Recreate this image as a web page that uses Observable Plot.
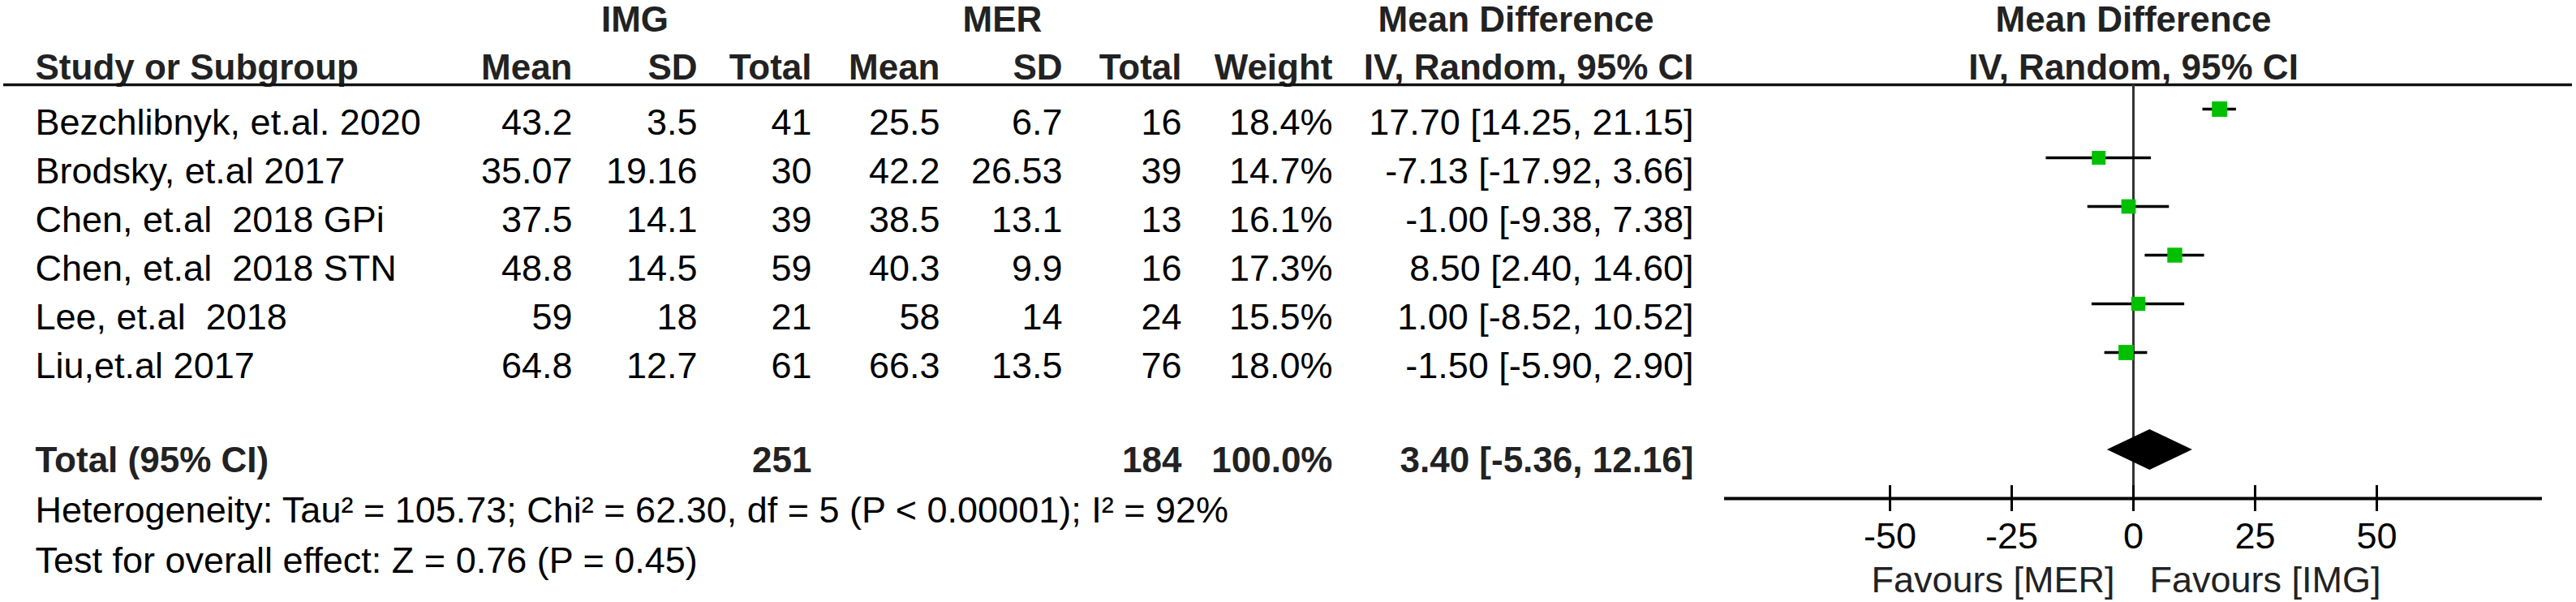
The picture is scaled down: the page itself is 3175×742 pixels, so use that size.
<!DOCTYPE html>
<html>
<head>
<meta charset="utf-8">
<script src="https://cdn.jsdelivr.net/npm/d3@7"></script>
<script src="https://cdn.jsdelivr.net/npm/@observablehq/plot@0.6"></script>
<style>
  html, body { margin: 0; padding: 0; background: #fff; }
  svg text { white-space: pre; }
</style>
</head>
<body>
<div id="chart"></div>
<script>
// ---------- data ----------
const studies = ["Bezchlibnyk, et.al. 2020", "Brodsky, et.al 2017", "Chen, et.al  2018 GPi", "Chen, et.al  2018 STN", "Lee, et.al  2018", "Liu,et.al 2017"];
const imgMean = [43.2, 35.07, 37.5, 48.8, 59, 64.8];
const imgSD = [3.5, 19.16, 14.1, 14.5, 18, 12.7];
const imgTotal = [41, 30, 39, 59, 21, 61];
const merMean = [25.5, 42.2, 38.5, 40.3, 58, 66.3];
const merSD = [6.7, 26.53, 13.1, 9.9, 14, 13.5];
const merTotal = [16, 39, 13, 16, 24, 76];
const weight = [18.4, 14.7, 16.1, 17.3, 15.5, 18.0];
const md = [17.70, -7.13, -1.00, 8.50, 1.00, -1.50];
const ciLo = [14.25, -17.92, -9.38, 2.40, -8.52, -5.90];
const ciHi = [21.15, 3.66, 7.38, 14.60, 10.52, 2.90];
const totalIMG = 251, totalMER = 184, totalWeight = 100.0;
const totalMD = 3.40, totalLo = -5.36, totalHi = 12.16;
const ticks = [-50, -25, 0, 25, 50];
const axisExtent = [-84, 84];
const heterogeneity = "Heterogeneity: Tau\u00B2 = 105.73; Chi\u00B2 = 62.30, df = 5 (P < 0.00001); I\u00B2 = 92%";
const overall = "Test for overall effect: Z = 0.76 (P = 0.45)";
const favours = ["Favours [MER]", "Favours [IMG]"];

// ---------- layout ----------
const W = 3175, H = 742;
const row0Px = 134, rowPx = 60;      // pixel centre of first study row, row pitch
const zeroPx = 2629, unitPx = 6;     // forest plot: pixel of 0, pixels per unit
const FONT = "Liberation Sans, Arial, Helvetica, sans-serif";
const FS = 45, FSB = 44;
const totalRow = 7, hetRow = 8, testRow = 9, axisRow = 8;

const fmtCI = (m, l, h) => `${m.toFixed(2)} [${l.toFixed(2)}, ${h.toFixed(2)}]`;

const rows = studies.map((s, i) => ({
  row: i, study: s,
  imgMean: imgMean[i], imgSD: imgSD[i], imgTotal: imgTotal[i],
  merMean: merMean[i], merSD: merSD[i], merTotal: merTotal[i],
  weight: weight[i], md: md[i], lo: ciLo[i], hi: ciHi[i]
}));

const columns = [
  {head: "Study or Subgroup", px: 43,   anchor: "start", val: d => d.study,              total: "Total (95% CI)"},
  {head: "Mean",              px: 705,  anchor: "end",   val: d => String(d.imgMean),    total: ""},
  {head: "SD",                px: 859,  anchor: "end",   val: d => String(d.imgSD),      total: ""},
  {head: "Total",             px: 1000, anchor: "end",   val: d => String(d.imgTotal),   total: String(totalIMG)},
  {head: "Mean",              px: 1158, anchor: "end",   val: d => String(d.merMean),    total: ""},
  {head: "SD",                px: 1309, anchor: "end",   val: d => String(d.merSD),      total: ""},
  {head: "Total",             px: 1456, anchor: "end",   val: d => String(d.merTotal),   total: String(totalMER)},
  {head: "Weight",            px: 1642, anchor: "end",   val: d => d.weight.toFixed(1) + "%", total: totalWeight.toFixed(1) + "%"},
  {head: "IV, Random, 95% CI",px: 2087, anchor: "end",   val: d => fmtCI(d.md, d.lo, d.hi), total: fmtCI(totalMD, totalLo, totalHi)}
];
const groupHeads = [
  {text: "IMG", px: 782}, {text: "MER", px: 1235}, {text: "Mean Difference", px: 1868}
];

const marks = [];
const textBase = {fontSize: FS, fontFamily: FONT, lineAnchor: "middle"};
const boldBase = {fontSize: FSB, fontFamily: FONT, lineAnchor: "middle", fontWeight: "bold", fill: "#222"};

// group headers (table)
for (const g of groupHeads) {
  marks.push(Plot.text([g.text], {...boldBase, y: -2, dy: 10, frameAnchor: "left", dx: g.px, textAnchor: "middle", text: d => d}));
}
// column headers, study rows, total row
for (const c of columns) {
  marks.push(Plot.text([c.head], {...boldBase, y: -1, dy: 9, frameAnchor: "left", dx: c.px, textAnchor: c.anchor, text: d => d}));
  marks.push(Plot.text(rows, {...textBase, y: "row", dy: 17, frameAnchor: "left", dx: c.px, textAnchor: c.anchor, text: c.val, fill: "#000"}));
  if (c.total) marks.push(Plot.text([c.total], {...boldBase, y: totalRow, dy: 13, frameAnchor: "left", dx: c.px, textAnchor: c.anchor, text: d => d}));
}
// forest headers
marks.push(Plot.text(["Mean Difference"], {...boldBase, x: 0, y: -2, dy: 10, textAnchor: "middle", text: d => d}));
marks.push(Plot.text(["IV, Random, 95% CI"], {...boldBase, x: 0, y: -1, dy: 9, textAnchor: "middle", text: d => d}));
// footnotes
marks.push(Plot.text([heterogeneity], {...textBase, y: hetRow, dy: 15, frameAnchor: "left", dx: 43, textAnchor: "start", text: d => d, fill: "#000"}));
marks.push(Plot.text([overall], {...textBase, y: testRow, dy: 17, frameAnchor: "left", dx: 43, textAnchor: "start", text: d => d, fill: "#000"}));

// header rule
marks.push(Plot.ruleY([-0.5], {stroke: "#111", strokeWidth: 3.5, insetLeft: 4, insetRight: 5}));
// line of no effect
marks.push(Plot.ruleX([0], {y1: -0.5, y2: axisRow, stroke: "#333", strokeWidth: 3}));
// x axis
marks.push(Plot.ruleY([axisExtent], {y: axisRow, x1: d => d[0], x2: d => d[1], stroke: "#000", strokeWidth: 4}));
marks.push(Plot.ruleX(ticks, {x: d => d, y1: axisRow - 16 / rowPx, y2: axisRow + 16 / rowPx, stroke: "#000", strokeWidth: 3}));
marks.push(Plot.text(ticks, {...textBase, x: d => d, y: axisRow, dy: 47, text: d => String(d), textAnchor: "middle", fill: "#000"}));
marks.push(Plot.text([favours[0]], {...textBase, x: 0, y: axisRow, dy: 101, dx: -23, textAnchor: "end", text: d => d, fill: "#222"}));
marks.push(Plot.text([favours[1]], {...textBase, x: 0, y: axisRow, dy: 101, dx: 20, textAnchor: "start", text: d => d, fill: "#222"}));

// confidence intervals and study squares
marks.push(Plot.ruleY(rows, {y: "row", x1: "lo", x2: "hi", stroke: "#000", strokeWidth: 3.5}));
marks.push(Plot.dot(rows, {x: "md", y: "row", r: "weight", symbol: "square", fill: "#00c000", stroke: "none"}));
// pooled diamond
const dh = 25 / rowPx;
const diamond = [
  {x: totalLo, a: totalRow, b: totalRow},
  {x: totalMD, a: totalRow - dh, b: totalRow + dh},
  {x: totalHi, a: totalRow, b: totalRow}
];
marks.push(Plot.area(diamond, {x1: "x", y1: "a", y2: "b", fill: "#000", curve: "linear"}));

const chart = Plot.plot({
  width: W, height: H,
  margin: 0,
  x: {domain: [-zeroPx / unitPx, (W - zeroPx) / unitPx], range: [0, W], axis: null},
  y: {domain: [-row0Px / rowPx, (H - row0Px) / rowPx], range: [0, H], axis: null},
  r: {type: "sqrt", domain: [0, d3.max(weight)], range: [0, 19 / Math.sqrt(Math.PI)]},
  style: {background: "#fff", fontFamily: FONT, overflow: "visible"},
  marks
});
document.getElementById("chart").appendChild(chart);
</script>
</body>
</html>
